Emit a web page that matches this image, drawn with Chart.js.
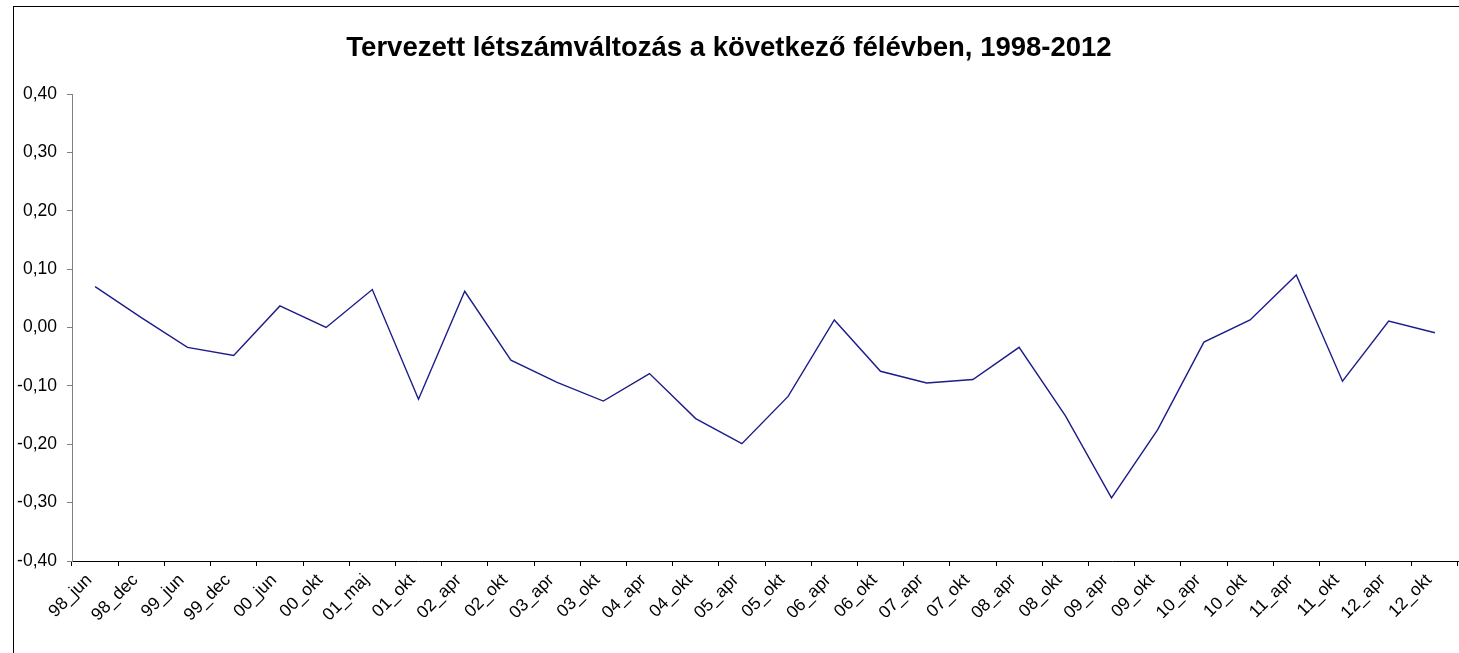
<!DOCTYPE html>
<html>
<head>
<meta charset="utf-8">
<script src="https://cdn.jsdelivr.net/npm/chart.js@4"></script>
<style>
  html, body { margin: 0; padding: 0; background: #fff; overflow: hidden; }
  canvas { display: block; }
</style>
</head>
<body>
<canvas id="lineChart" width="1459" height="653" style="width:1459px;height:653px"></canvas>
<script>
// Félévek (kategóriák)
const periods = ['98_jun', '98_dec', '99_jun', '99_dec', '00_jun', '00_okt', '01_maj', '01_okt',
    '02_apr', '02_okt', '03_apr', '03_okt', '04_apr', '04_okt', '05_apr', '05_okt',
    '06_apr', '06_okt', '07_apr', '07_okt', '08_apr', '08_okt', '09_apr', '09_okt',
    '10_apr', '10_okt', '11_apr', '11_okt', '12_apr', '12_okt'];

// Tervezett létszámváltozás
const plannedChange = [0.070, 0.017, -0.034, -0.048, 0.037, 0.000, 0.065, -0.123,
    0.062, -0.056, -0.094, -0.126, -0.079, -0.156, -0.199, -0.118,
    0.013, -0.075, -0.095, -0.089, -0.034, -0.151, -0.292, -0.175,
    -0.025, 0.013, 0.090, -0.092, 0.011, -0.009];

// Y tengely
const yMin = -0.4;
const yMax = 0.4;
const yStep = 0.1;

const font = 'Arial, "Liberation Sans", sans-serif';

// keret a diagram körül (Excel stílus)
const frame = {
    id: 'frame',
    beforeDraw(chart) {
        const ctx = chart.ctx;
        ctx.save();
        ctx.fillStyle = '#fff';
        ctx.fillRect(0, 0, chart.width, chart.height);
        ctx.strokeStyle = '#000';
        ctx.lineWidth = 1;
        ctx.strokeRect(13.5, 6.5, chart.width, chart.height);
        ctx.restore();
    }
};

const ctx = document.getElementById('lineChart').getContext('2d');
const lineChart = new Chart(ctx, {
    type: 'line',
    data: {
        labels: periods,
        datasets: [{
            data: plannedChange,
            borderColor: '#1c1c8a',
            borderWidth: 1.4,
            pointRadius: 0,
            tension: 0,
            fill: false
        }]
    },
    options: {
        responsive: false,
        animation: false,
        devicePixelRatio: 1,
        layout: { padding: { left: 0, right: 1, top: 0, bottom: 0 } },
        plugins: {
            legend: { display: false },
            tooltip: { enabled: false },
            title: {
                display: true,
                text: 'Tervezett létszámváltozás a következő félévben, 1998-2012',
                color: '#000',
                font: { family: font, size: 27.5, weight: 'bold' },
                padding: { top: 32, bottom: 29 }
            }
        },
        scales: {
            x: {
                offset: true,
                grid: {
                    offset: true,
                    drawOnChartArea: false,
                    drawTicks: true,
                    tickLength: 5,
                    color: '#000'
                },
                border: { color: '#000', width: 1 },
                ticks: {
                    autoSkip: false,
                    minRotation: 45,
                    maxRotation: 45,
                    padding: 4,
                    labelOffset: -6,
                    color: '#000',
                    font: { family: font, size: 17.5 }
                },
                afterFit(scale) { scale.height = 92; }
            },
            y: {
                min: yMin,
                max: yMax,
                grid: {
                    drawOnChartArea: false,
                    drawTicks: true,
                    tickLength: 5,
                    color: '#808080'
                },
                border: { color: '#808080', width: 1 },
                ticks: {
                    stepSize: yStep,
                    padding: 10,
                    color: '#000',
                    font: { family: font, size: 17.5 },
                    callback: v => v.toFixed(2).replace('.', ',')
                },
                afterFit(scale) { scale.width = 72; }
            }
        }
    },
    plugins: [frame]
});
</script>
</body>
</html>
